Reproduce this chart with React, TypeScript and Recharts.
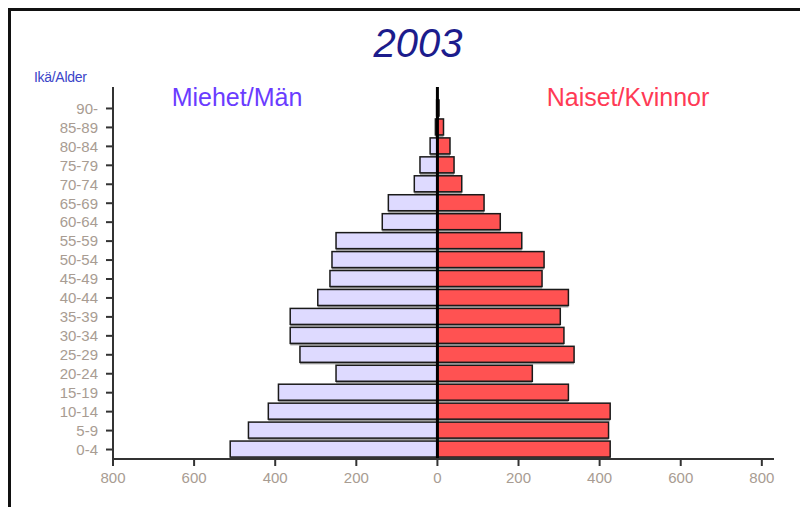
import { BarChart, Bar, XAxis, YAxis, ReferenceLine } from "recharts";

// Population pyramid 2003
const ageGroups = [
  "0-4", "5-9", "10-14", "15-19", "20-24", "25-29", "30-34", "35-39", "40-44", "45-49",
  "50-54", "55-59", "60-64", "65-69", "70-74", "75-79", "80-84", "85-89", "90-",
];
const men = [511, 466, 417, 392, 250, 339, 363, 363, 295, 265, 260, 250, 136, 121, 57, 43, 18, 5, 2];
const women = [426, 422, 426, 323, 234, 337, 312, 303, 323, 258, 263, 208, 155, 115, 60, 41, 31, 15, 4];
const xTicks = [-800, -600, -400, -200, 0, 200, 400, 600, 800];

const FONT = "'Liberation Sans', Arial, sans-serif";
const TICK_COLOR = "#a89c92";

// bar with a grey drop shadow under it
const ShadowBar = (props: any) => {
  const { x, y, width, height, fill } = props;
  if (width == null || height == null) return null;
  const x0 = Math.min(x, x + width);
  const w = Math.abs(width);
  return (
    <g>
      <rect x={x0} y={y + 2} width={w} height={height} fill="#9c9c9c" />
      <rect x={x0} y={y} width={w} height={height} fill={fill} stroke="#1a1a1a" strokeWidth={1.5} />
    </g>
  );
};

export default function App() {
  const data = ageGroups
    .map((age, i) => ({ age, men: -men[i], women: women[i] }))
    .reverse();

  return (
    <div style={{ position: "relative", width: 800, height: 499, overflow: "hidden" }}>
      <style>{`body{overflow:hidden}`}</style>
      <div
        style={{
          position: "absolute",
          left: 0,
          top: 0,
          width: 830,
          height: 530,
          border: "3px solid #111",
          boxSizing: "border-box",
        }}
      />
      <div style={{ position: "absolute", left: 0, top: 0 }}>
        <BarChart
          width={790}
          height={490}
          data={data}
          layout="vertical"
          stackOffset="sign"
          margin={{ top: 79, right: 24, bottom: 9, left: 45 }}
        >
          <XAxis
            type="number"
            domain={[-800, 830]}
            ticks={xTicks}
            tickFormatter={(v: number) => String(Math.abs(v))}
            tick={{ fill: TICK_COLOR, fontSize: 15, fontFamily: FONT }}
            axisLine={{ stroke: "#333", strokeWidth: 2 }}
            tickLine={{ stroke: "#333", strokeWidth: 2 }}
            tickSize={7}
            tickMargin={6}
            height={30}
          />
          <YAxis
            type="category"
            dataKey="age"
            width={60}
            padding={{ top: 12, bottom: 0 }}
            interval={0}
            tick={{ fill: TICK_COLOR, fontSize: 15, fontFamily: FONT }}
            axisLine={{ stroke: "#333", strokeWidth: 2 }}
            tickLine={{ stroke: "#333", strokeWidth: 2 }}
            tickSize={7}
            tickMargin={8}
          />
          <Bar dataKey="men" stackId="a" fill="#dedaff" barSize={16} shape={ShadowBar} isAnimationActive={false} />
          <Bar dataKey="women" stackId="a" fill="#ff5252" barSize={16} shape={ShadowBar} isAnimationActive={false} />
          <ReferenceLine x={0} stroke="#000" strokeWidth={3} />
        </BarChart>
      </div>
      <svg
        width={800}
        height={120}
        style={{ position: "absolute", left: 0, top: 0, pointerEvents: "none" }}
      >
        <text x={410} y={49} textAnchor="middle" fontFamily={FONT} fontSize={40} fontStyle="italic" fill="#1c1c8c">
          2003
        </text>
        <text x={26} y={74} fontFamily={FONT} fontSize={14} fill="#3a44c8" letterSpacing={-0.3}>
          Ikä/Alder
        </text>
        <text x={229} y={98} textAnchor="middle" fontFamily={FONT} fontSize={25} fill="#6a3cff">
          Miehet/Män
        </text>
        <text x={620} y={98} textAnchor="middle" fontFamily={FONT} fontSize={25} fill="#ff3a55">
          Naiset/Kvinnor
        </text>
      </svg>
    </div>
  );
}
